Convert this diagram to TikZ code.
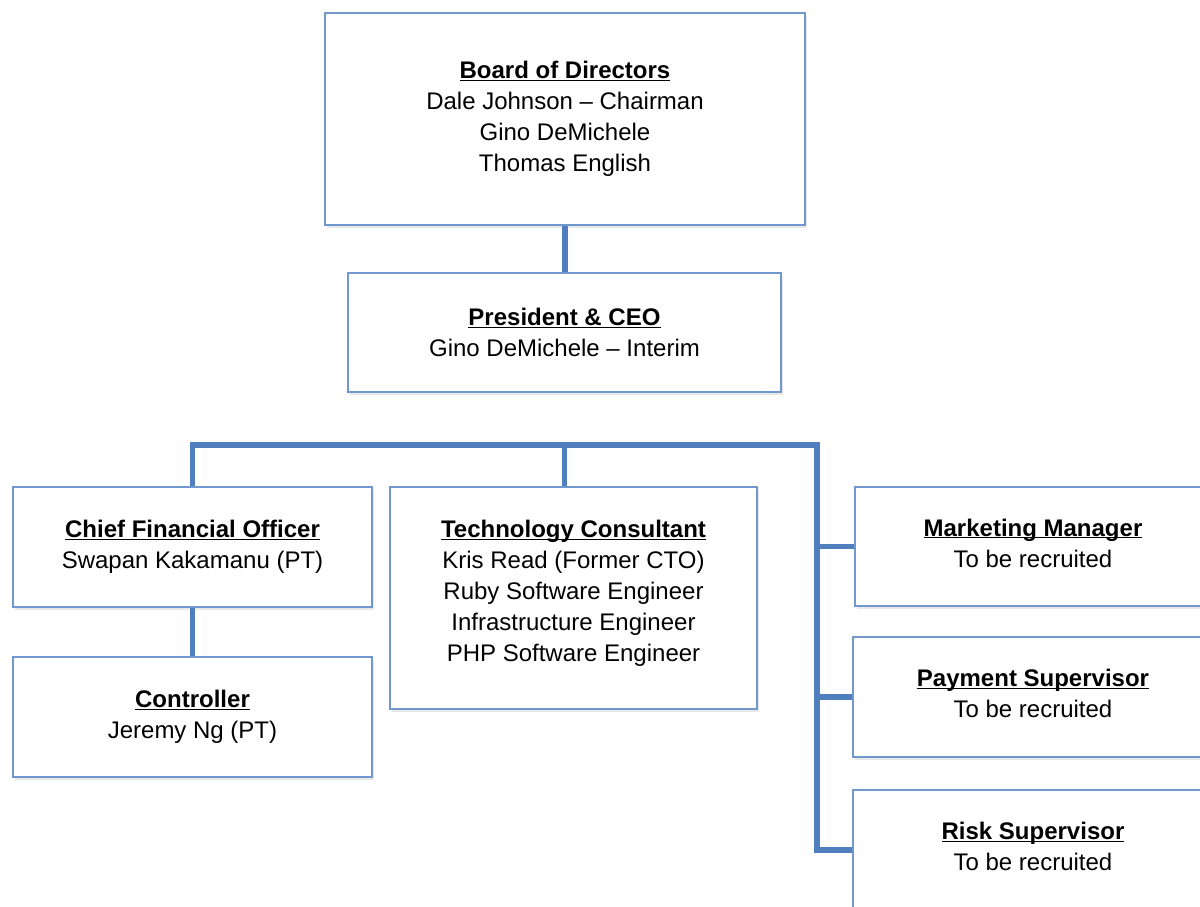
\documentclass[tikz,border=0pt]{standalone}
\usepackage{fontspec}
\setmainfont{Liberation Sans}
\usetikzlibrary{positioning,shadows}
\definecolor{boxblue}{HTML}{7098CE}
\definecolor{lineblue}{HTML}{4F7FBC}
\newcommand{\ttl}[1]{{\setbox0\hbox{\textbf{#1}}\dp0=0pt\underline{\box0}}}

\begin{document}
\begin{tikzpicture}[x=1pt,y=-1pt,
    box/.style={draw=boxblue,line width=1.6pt,fill=white,align=center,
        font=\fontsize{24}{31}\selectfont,inner sep=0pt,
        drop shadow={opacity=0.18,shadow xshift=2pt,shadow yshift=-2.5pt}},
    link/.style={draw=lineblue,line width=5.5pt}]
    \useasboundingbox (0,0) rectangle (1200,907);
    \clip (0,0) rectangle (1200,907);
    \node[box,minimum width=480,minimum height=212] (board) at (565,119)
        {\ttl{Board of Directors}\\Dale Johnson -- Chairman\\Gino DeMichele\\Thomas English};
    \node[box,minimum width=433,minimum height=119] (ceo) at (564.5,332.5)
        {\ttl{President \& CEO}\\Gino DeMichele -- Interim};
    \node[box,minimum width=359,minimum height=120] (cfo) at (192.5,547)
        {\ttl{Chief Financial Officer}\\Swapan Kakamanu (PT)};
    \node[box,minimum width=359,minimum height=120] (ctrl) at (192.5,717)
        {\ttl{Controller}\\Jeremy Ng (PT)};
    \node[box,minimum width=367,minimum height=222] (tech) at (573.5,598)
        {\ttl{Technology Consultant}\\Kris Read (Former CTO)\\Ruby Software Engineer\\Infrastructure Engineer\\PHP Software Engineer\rule[-14pt]{0pt}{14pt}};
    \node[box,minimum width=356,minimum height=119] (mkt) at (1033,546.5)
        {\ttl{Marketing Manager}\\To be recruited\rule[-7pt]{0pt}{7pt}};
    \node[box,minimum width=360,minimum height=120] (pay) at (1033,697)
        {\ttl{Payment Supervisor}\\To be recruited\rule[-7pt]{0pt}{7pt}};
    \node[box,minimum width=360,minimum height=120] (risk) at (1033,850)
        {\ttl{Risk Supervisor}\\To be recruited\rule[-7pt]{0pt}{7pt}};
    \coordinate (bend) at (817,445);
    \path[link] (board.south) -- (board.south |- ceo.north)
        (cfo.north) |- (bend) -- (bend |- risk.west) -- (risk.west)
        (ceo.south |- bend) -- (ceo.south |- tech.north)
        (bend |- mkt.west) -- (mkt.west)
        (bend |- pay.west) -- (pay.west)
        (cfo.south) -- (ctrl.north);
\end{tikzpicture}
\end{document}
